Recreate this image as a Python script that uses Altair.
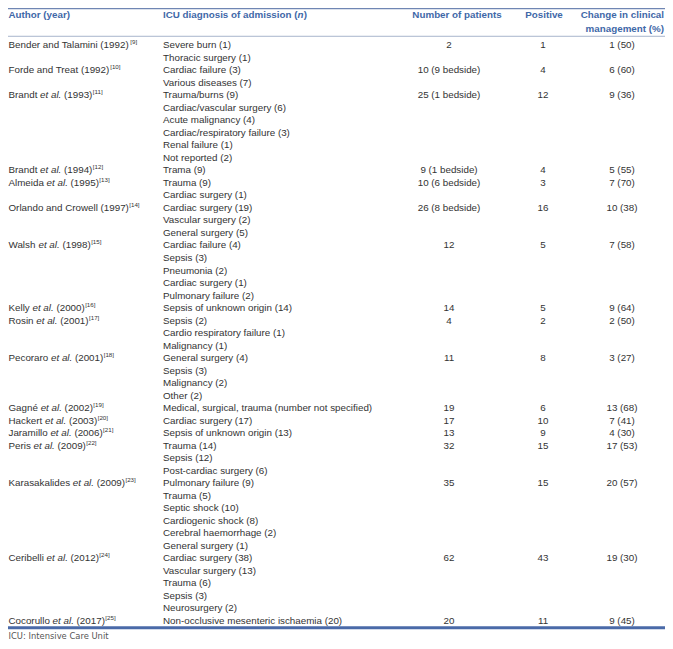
import altair as alt
import pandas as pd

# ---------------- data ----------------
authors = ["Bender and Talamini", "Forde and Treat", "Brandt", "Brandt", "Almeida",
           "Orlando and Crowell", "Walsh", "Kelly", "Rosin", "Pecoraro", "Gagné",
           "Hackert", "Jaramillo", "Peris", "Karasakalides", "Ceribelli", "Cocorullo"]
et_al = [False, False, True, True, True, False, True, True, True, True, True,
         True, True, True, True, True, True]
years = [1992, 1992, 1993, 1994, 1995, 1997, 1998, 2000, 2001, 2001, 2002,
         2003, 2006, 2009, 2009, 2012, 2017]
refs = [9, 10, 11, 12, 13, 14, 15, 16, 17, 18, 19, 20, 21, 22, 23, 24, 25]
diagnoses = [
    ["Severe burn (1)", "Thoracic surgery (1)"],
    ["Cardiac failure (3)", "Various diseases (7)"],
    ["Trauma/burns (9)", "Cardiac/vascular surgery (6)", "Acute malignancy (4)",
     "Cardiac/respiratory failure (3)", "Renal failure (1)", "Not reported (2)"],
    ["Trama (9)"],
    ["Trauma (9)", "Cardiac surgery (1)"],
    ["Cardiac surgery (19)", "Vascular surgery (2)", "General surgery (5)"],
    ["Cardiac failure (4)", "Sepsis (3)", "Pneumonia (2)", "Cardiac surgery (1)",
     "Pulmonary failure (2)"],
    ["Sepsis of unknown origin (14)"],
    ["Sepsis (2)", "Cardio respiratory failure (1)", "Malignancy (1)"],
    ["General surgery (4)", "Sepsis (3)", "Malignancy (2)", "Other (2)"],
    ["Medical, surgical, trauma (number not specified)"],
    ["Cardiac surgery (17)"],
    ["Sepsis of unknown origin (13)"],
    ["Trauma (14)", "Sepsis (12)", "Post-cardiac surgery (6)"],
    ["Pulmonary failure (9)", "Trauma (5)", "Septic shock (10)", "Cardiogenic shock (8)",
     "Cerebral haemorrhage (2)", "General surgery (1)"],
    ["Cardiac surgery (38)", "Vascular surgery (13)", "Trauma (6)", "Sepsis (3)",
     "Neurosurgery (2)"],
    ["Non-occlusive mesenteric ischaemia (20)"],
]
patients = ["2", "10 (9 bedside)", "25 (1 bedside)", "9 (1 bedside)", "10 (6 bedside)",
            "26 (8 bedside)", "12", "14", "4", "11", "19", "17", "13", "32", "35", "62", "20"]
positive = [1, 4, 12, 4, 3, 16, 5, 5, 2, 8, 6, 10, 9, 15, 15, 43, 11]
changed = [1, 6, 9, 5, 7, 10, 7, 9, 2, 3, 13, 7, 4, 17, 20, 19, 9]
changed_pct = [50, 60, 36, 55, 70, 38, 58, 64, 50, 27, 68, 41, 30, 53, 57, 30, 45]

header_line1 = ["Author (year)", "ICU diagnosis of admission (", "n", ")",
                "Number of patients", "Positive", "Change in clinical"]
header_line2 = ["management (%)"]
footnote = ["ICU: Intensive Care Unit"]

# ---------------- layout / style ----------------
W, H = 657, 632
FS = 9.8          # body font size
HFS = 9.8         # header font size
SUP_FS = 6.2
BODY = "#333333"
BLUE = "#3f68a8"
FONT = "Liberation Sans"

X_AUTH = 0.5
X_DIAG = 155
X_NUM = 441
X_POS = 535
X_CHG = 614
X_NUM_H = 449
X_POS_H = 536
X_RIGHT = 656

# line positions (in "table line" units); body line i sits at i
Y_H1, Y_H2 = -2.44, -1.31
Y_TOP, Y_SEP, Y_BOT, Y_FOOT = -2.93, -0.72, 46.55, 47.2
Y_DOMAIN = [-2.98, 47.53]

# Arial / Liberation Sans advance widths (1/1000 em)
REG = {' ': 278, '(': 333, ')': 333, '.': 278, ',': 278, '-': 333, '/': 278, '[': 278,
       ']': 278, '%': 889, ':': 278,
       'A': 667, 'B': 667, 'C': 722, 'D': 722, 'E': 667, 'F': 611, 'G': 778, 'H': 722,
       'I': 278, 'J': 500, 'K': 667, 'L': 556, 'M': 833, 'N': 722, 'O': 778, 'P': 667,
       'Q': 778, 'R': 722, 'S': 667, 'T': 611, 'U': 722, 'V': 667, 'W': 944, 'X': 667,
       'Y': 667, 'Z': 611,
       'a': 556, 'b': 556, 'c': 500, 'd': 556, 'e': 556, 'f': 278, 'g': 556, 'h': 556,
       'i': 222, 'j': 222, 'k': 500, 'l': 222, 'm': 833, 'n': 556, 'o': 556, 'p': 556,
       'q': 556, 'r': 333, 's': 500, 't': 278, 'u': 556, 'v': 500, 'w': 722, 'x': 500,
       'y': 500, 'z': 500, 'é': 556}
BOLD = {' ': 278, '(': 333, ')': 333, '%': 889,
        'A': 722, 'C': 722, 'I': 278, 'U': 722, 'N': 722, 'P': 667,
        'a': 556, 'b': 611, 'c': 556, 'd': 611, 'e': 556, 'f': 333, 'g': 611, 'h': 611,
        'i': 278, 'l': 278, 'm': 889, 'n': 611, 'o': 611, 'p': 611, 'r': 389, 's': 556,
        't': 333, 'u': 611, 'v': 556, 'y': 556}


def tw(s, size, table=REG):
    return sum(table.get(ch, 556) for ch in s) / 1000.0 * size


# ---------------- build tables ----------------
auth_rows, diag_rows, num_rows, pos_rows, chg_rows = [], [], [], [], []
line = 0
for k, name in enumerate(authors):
    x = X_AUTH
    if et_al[k]:
        auth_rows.append(dict(x=x, line=line, text=name, style="normal"))
        x += tw(name + " ", FS)
        auth_rows.append(dict(x=x, line=line, text="et al.", style="italic"))
        x += tw("et al. ", FS)
        s = f"({years[k]})"
        auth_rows.append(dict(x=x, line=line, text=s, style="normal"))
        x += tw(s, FS)
    else:
        s = f"{name} ({years[k]})"
        auth_rows.append(dict(x=x, line=line, text=s, style="normal"))
        x += tw(s, FS)
    auth_rows.append(dict(x=x + 0.4, line=line, text=f"[{refs[k]}]", style="sup"))
    for j, d in enumerate(diagnoses[k]):
        diag_rows.append(dict(x=X_DIAG, line=line + j, text=d))
    num_rows.append(dict(x=X_NUM, line=line, text=patients[k]))
    pos_rows.append(dict(x=X_POS, line=line, text=str(positive[k])))
    chg_rows.append(dict(x=X_CHG, line=line, text=f"{changed[k]} ({changed_pct[k]})"))
    line += len(diagnoses[k])

auth_df = pd.DataFrame(auth_rows)
diag_df = pd.DataFrame(diag_rows)
num_df = pd.DataFrame(num_rows)
pos_df = pd.DataFrame(pos_rows)
chg_df = pd.DataFrame(chg_rows)

# header pieces
hx_icu2 = X_DIAG + tw(header_line1[1], HFS, BOLD)
head_left = pd.DataFrame([
    dict(x=X_AUTH, line=Y_H1, text=header_line1[0], style="b"),
    dict(x=X_DIAG, line=Y_H1, text=header_line1[1], style="b"),
    dict(x=hx_icu2, line=Y_H1, text=header_line1[2], style="bi"),
    dict(x=hx_icu2 + tw("n", HFS, BOLD) + 0.3, line=Y_H1, text=header_line1[3], style="b"),
])
head_center = pd.DataFrame([
    dict(x=X_NUM_H, line=Y_H1, text=header_line1[4]),
    dict(x=X_POS_H, line=Y_H1, text=header_line1[5]),
])
head_right = pd.DataFrame([
    dict(x=X_RIGHT, line=Y_H1, text=header_line1[6]),
    dict(x=X_RIGHT, line=Y_H2, text=header_line2[0]),
])
foot_df = pd.DataFrame([dict(x=X_AUTH, line=Y_FOOT, text=footnote[0])])

xs = alt.Scale(domain=[0, W], range=[0, W], nice=False, zero=False)
ys = alt.Scale(domain=Y_DOMAIN, range=[0, H], nice=False, zero=False)


def enc(ch):
    return ch.encode(
        x=alt.X("x:Q", scale=xs, axis=None),
        y=alt.Y("line:Q", scale=ys, axis=None),
        text="text:N",
    )


layers = []
# body author segments
layers.append(enc(alt.Chart(auth_df[auth_df["style"] == "normal"]).mark_text(
    align="left", baseline="middle", font=FONT, fontSize=FS, color=BODY)))
layers.append(enc(alt.Chart(auth_df[auth_df["style"] == "italic"]).mark_text(
    align="left", baseline="middle", font=FONT, fontSize=FS, fontStyle="italic", color=BODY)))
layers.append(enc(alt.Chart(auth_df[auth_df["style"] == "sup"]).mark_text(
    align="left", baseline="middle", font=FONT, fontSize=SUP_FS, dy=-3, color=BODY)))
layers.append(enc(alt.Chart(diag_df).mark_text(
    align="left", baseline="middle", font=FONT, fontSize=FS, color=BODY)))
for df_ in (num_df, pos_df, chg_df):
    layers.append(enc(alt.Chart(df_).mark_text(
        align="center", baseline="middle", font=FONT, fontSize=FS, color=BODY)))
# header
layers.append(enc(alt.Chart(head_left[head_left["style"] == "b"]).mark_text(
    align="left", baseline="middle", font=FONT, fontSize=HFS, fontWeight="bold", color=BLUE)))
layers.append(enc(alt.Chart(head_left[head_left["style"] == "bi"]).mark_text(
    align="left", baseline="middle", font=FONT, fontSize=HFS, fontWeight="bold",
    fontStyle="italic", color=BLUE)))
layers.append(enc(alt.Chart(head_center).mark_text(
    align="center", baseline="middle", font=FONT, fontSize=HFS, fontWeight="bold", color=BLUE)))
layers.append(enc(alt.Chart(head_right).mark_text(
    align="right", baseline="middle", font=FONT, fontSize=HFS, fontWeight="bold", color=BLUE)))
# footnote
layers.append(enc(alt.Chart(foot_df).mark_text(
    align="left", baseline="middle", font="DejaVu Sans", fontSize=8.4, color="#555555")))

# rules
rules = pd.DataFrame({"line": [Y_TOP, Y_SEP, Y_BOT], "kind": ["top", "sep", "bot"]})
rule_styles = {"top": ("#6f86b3", 1.2), "sep": ("#a7b4cb", 1.0), "bot": ("#4a6aa8", 3.0)}
for kind, (col, sw) in rule_styles.items():
    layers.append(alt.Chart(rules[rules["kind"] == kind]).mark_rule(
        color=col, strokeWidth=sw).encode(
        y=alt.Y("line:Q", scale=ys, axis=None),
        x=alt.value(0), x2=alt.value(W)))

chart = alt.layer(*layers).properties(
    width=W, height=H, padding=0,
    autosize=alt.AutoSizeParams(type="none"),
    background="white",
).configure_view(stroke=None)

chart.save("out.html", embed_options={"renderer": "svg", "actions": False})
